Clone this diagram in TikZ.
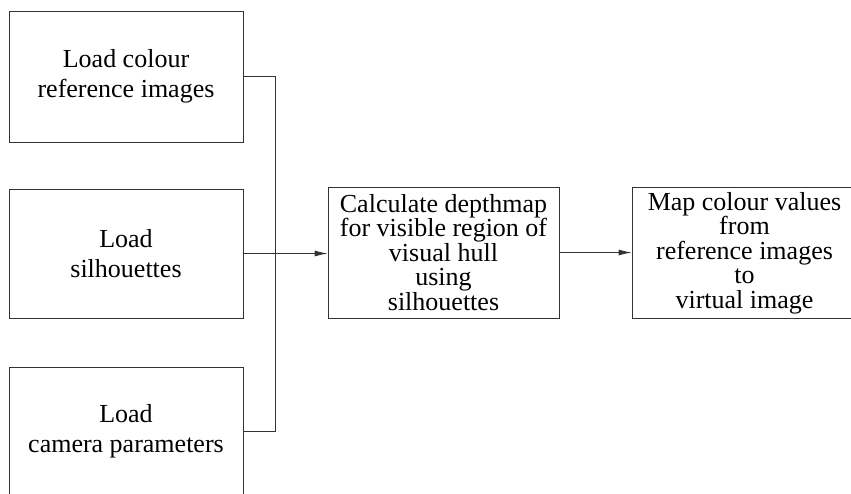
\documentclass[tikz,border=0pt]{standalone}
\usepackage{fontspec}
\setmainfont{Liberation Serif}
\usetikzlibrary{arrows.meta}
\begin{document}
\begin{tikzpicture}[x=1pt,y=-1pt,
  lbox/.style={draw=black!80,line width=0.8pt,inner sep=0pt,minimum width=234pt,align=center,font=\fontsize{26}{30}\selectfont},
  cbox/.style={draw=black!80,line width=0.8pt,inner sep=0pt,minimum height=131pt,align=center,font=\fontsize{26}{24.5}\selectfont},
  conn/.style={draw=black!80,line width=0.8pt},
  arr/.style={conn,-{Latex[length=13pt,width=6pt]}}]
\useasboundingbox (0,0) rectangle (851,493);
\node[lbox,minimum height=131pt] (top) at (126,76.5) {Load colour\\reference images};
\node[lbox,minimum height=129pt] (mid) at (126,253.5) {Load\\silhouettes};
\node[lbox,minimum height=128pt] (bot) at (126,431) {Load\\camera parameters};
\node[cbox,minimum width=231pt] (calc) at (443.5,252.5) {Calculate depthmap\\for visible region of\\visual hull\\using\\silhouettes};
\node[cbox,minimum width=225pt] (map) at (744.5,253) {Map colour values\\from\\reference images\\to\\virtual image};
\coordinate (j) at (275,76);
\draw[conn] (top.east) -- (top.east -| j) -- (bot.east -| j) -- (bot.east);
\draw[arr] (mid.east) -- (mid.east -| calc.west);
\draw[arr] (calc.east) -- (calc.east -| map.west);
\end{tikzpicture}
\end{document}
